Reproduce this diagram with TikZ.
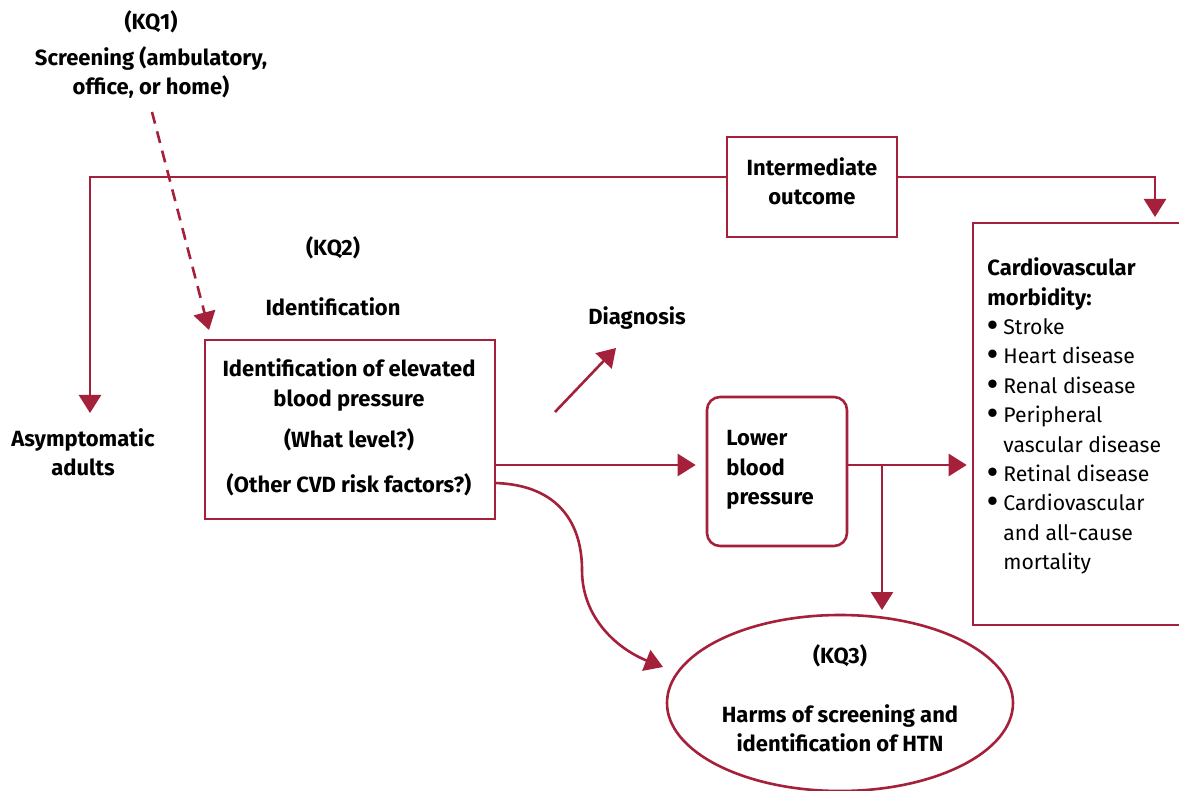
\documentclass[tikz,border=0pt]{standalone}
\usepackage{fontspec}
\setmainfont{Fira Sans}
\usetikzlibrary{arrows.meta,shapes.geometric}
\definecolor{cvred}{RGB}{165,32,58}
\newcommand\cvbul{\makebox[8pt][l]{\raisebox{-0.5pt}{\fontsize{15}{15}\selectfont\textbf{\textbullet}}}}
\begin{document}
\begin{tikzpicture}[x=0.5pt,y=-0.5pt,
  every node/.style={font=\fontsize{11}{14.7}\selectfont\bfseries, inner sep=0pt, align=center},
  conn/.style={draw=cvred, line width=1.3pt},
  arr/.style={conn, -{Triangle[width=11pt,length=9pt]}},
  boxst/.style={draw=cvred, line width=1.3pt, rectangle},
]
\clip (0,0) rectangle (1179,791);
\fill[white] (0,0) rectangle (1179,791);

% boxes
\node[boxst, minimum width=85pt, minimum height=50pt] (inter) at (812,187) {};
\node[boxst, minimum width=145pt, minimum height=89.5pt] (idbox) at (350,429.5) {};
\node[boxst, rounded corners=6.5pt, minimum width=70pt, minimum height=74.5pt] (lbp) at (777,471.5) {};
\node[boxst, minimum width=108.5pt, minimum height=201pt] (cardio) at (1081.5,424) {};
\node[draw=cvred, line width=1.3pt, ellipse, minimum width=173pt, minimum height=88pt] (harm) at (840,703) {};

% texts
\node (kq1) at (151,22) {(KQ1)};
\node (scr) at (151,72.5) {Screening (ambulatory,\\office, or home)};
\node (intertxt) at (812,181) {Intermediate\\outcome};
\node (asym) at (83,452) {Asymptomatic\\adults};
\node (kq2) at (333,248) {(KQ2)};
\node (ident) at (333,307) {Identification};
\node (idt1) at (349,385) {Identification of elevated\\blood pressure};
\node (idt2) at (349,440) {(What level?)};
\node (idt3) at (349,485) {(Other CVD risk factors?)};
\node (diag) at (637,318) {Diagnosis};
\node[anchor=west, align=left] (lbptxt) at (726,470) {Lower\\blood\\pressure};
\node[anchor=west, align=left, font=\fontsize{10.6}{14.7}\selectfont] (cvtxt) at (987,416)
  {\textbf{\fontsize{11}{14.7}\selectfont Cardiovascular}\\\textbf{\fontsize{11}{14.7}\selectfont morbidity:}\\\cvbul Stroke\\\cvbul Heart disease\\\cvbul Renal disease\\\cvbul Peripheral\\\hspace*{8pt}vascular disease\\\cvbul Retinal disease\\\cvbul Cardiovascular\\\hspace*{8pt}and all-cause\\\hspace*{8pt}mortality};
\node (kq3) at (840,656) {(KQ3)};
\node (harmtxt) at (840,728.5) {Harms of screening and\\identification of HTN};

% coordinates
\coordinate (mainy) at (0,465);
\coordinate (asymtop) at (90,413);
\coordinate (cardtop) at (1155,217);
\coordinate (kq1b) at (152,112);
\coordinate (idtip) at (209,330);
\coordinate (dstart) at (555,412);
\coordinate (dtip) at (616,348);
\coordinate (br) at (882,465);
\coordinate (brtip) at (882,610);
\coordinate (cstart) at (495,483);
\coordinate (ctip) at (663,667);

% connectors
\draw[arr] ([yshift=5pt]inter.west) -| (asymtop);
\draw[arr] ([yshift=5pt]inter.east) -| (cardtop);
\draw[arr, dash pattern=on 6pt off 4pt] (kq1b) -- (idtip);
\draw[arr] (dstart) -- (dtip);
\draw[arr, shorten >=5pt] (idbox.east |- mainy) -- (lbp.west |- mainy);
\draw[arr, shorten >=2.5pt] (lbp.east |- mainy) -- (cardio.west |- mainy);
\draw[arr] (br) -- (brtip);
\draw[arr] (cstart) .. controls (560,485) and (582,525) .. (582,570) .. controls (582,620) and (620,650) .. (ctip);
\end{tikzpicture}
\end{document}
